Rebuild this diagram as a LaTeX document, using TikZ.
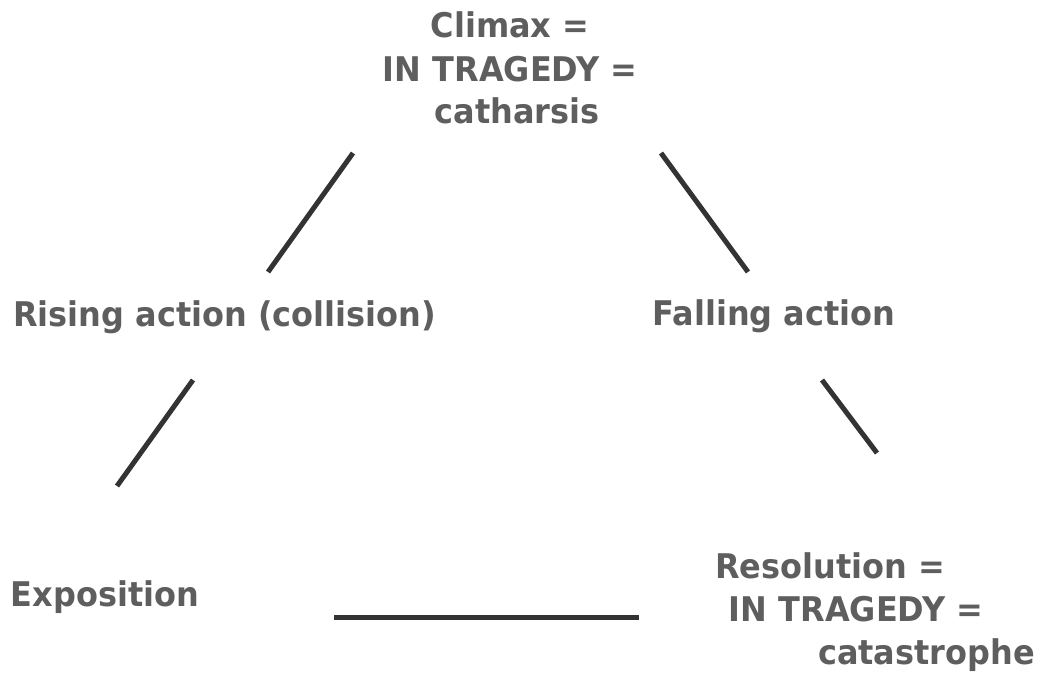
\documentclass[tikz,border=0pt]{standalone}
\usepackage{fontspec}
\setmainfont{DejaVu Sans}[BoldFont={DejaVu Sans Bold},BoldFeatures={FakeStretch=0.94}]
\definecolor{txt}{HTML}{5E5E5E}
\definecolor{ln}{HTML}{333333}
\begin{document}
\begin{tikzpicture}[x=1pt,y=-1pt,
  lbl/.style={text=txt,font=\fontsize{34}{40}\selectfont\bfseries,inner sep=0pt,anchor=base},
  seg/.style={draw=ln,line width=5pt}]
\useasboundingbox (0,0) rectangle (1037,673);
\node[lbl] (c1) at (510,37) {Climax =};
\node[lbl] (c2) at (510,81) {IN TRAGEDY =};
\node[lbl] (c3) at (517,123) {catharsis};
\node[lbl] (ra) at (224.5,326) {Rising action (collision)};
\node[lbl] (fa) at (774,325) {Falling action};
\node[lbl] (ex) at (105,606) {Exposition};
\node[lbl] (r1) at (830,578) {Resolution =};
\node[lbl] (r2) at (856,621) {IN TRAGEDY =};
\node[lbl] (r3) at (926.5,664) {catastrophe};
\coordinate (a1) at (353,153); \coordinate (a2) at (268,272);
\coordinate (b1) at (193,380); \coordinate (b2) at (117,486);
\coordinate (d1) at (661,153); \coordinate (d2) at (748,272);
\coordinate (e1) at (822,380); \coordinate (e2) at (877,453);
\coordinate (f1) at (334,617); \coordinate (f2) at (639,617);
\draw[seg] (a1) -- (a2);
\draw[seg] (b1) -- (b2);
\draw[seg] (d1) -- (d2);
\draw[seg] (e1) -- (e2);
\draw[seg] (f1) -- (f2);
\end{tikzpicture}
\end{document}
